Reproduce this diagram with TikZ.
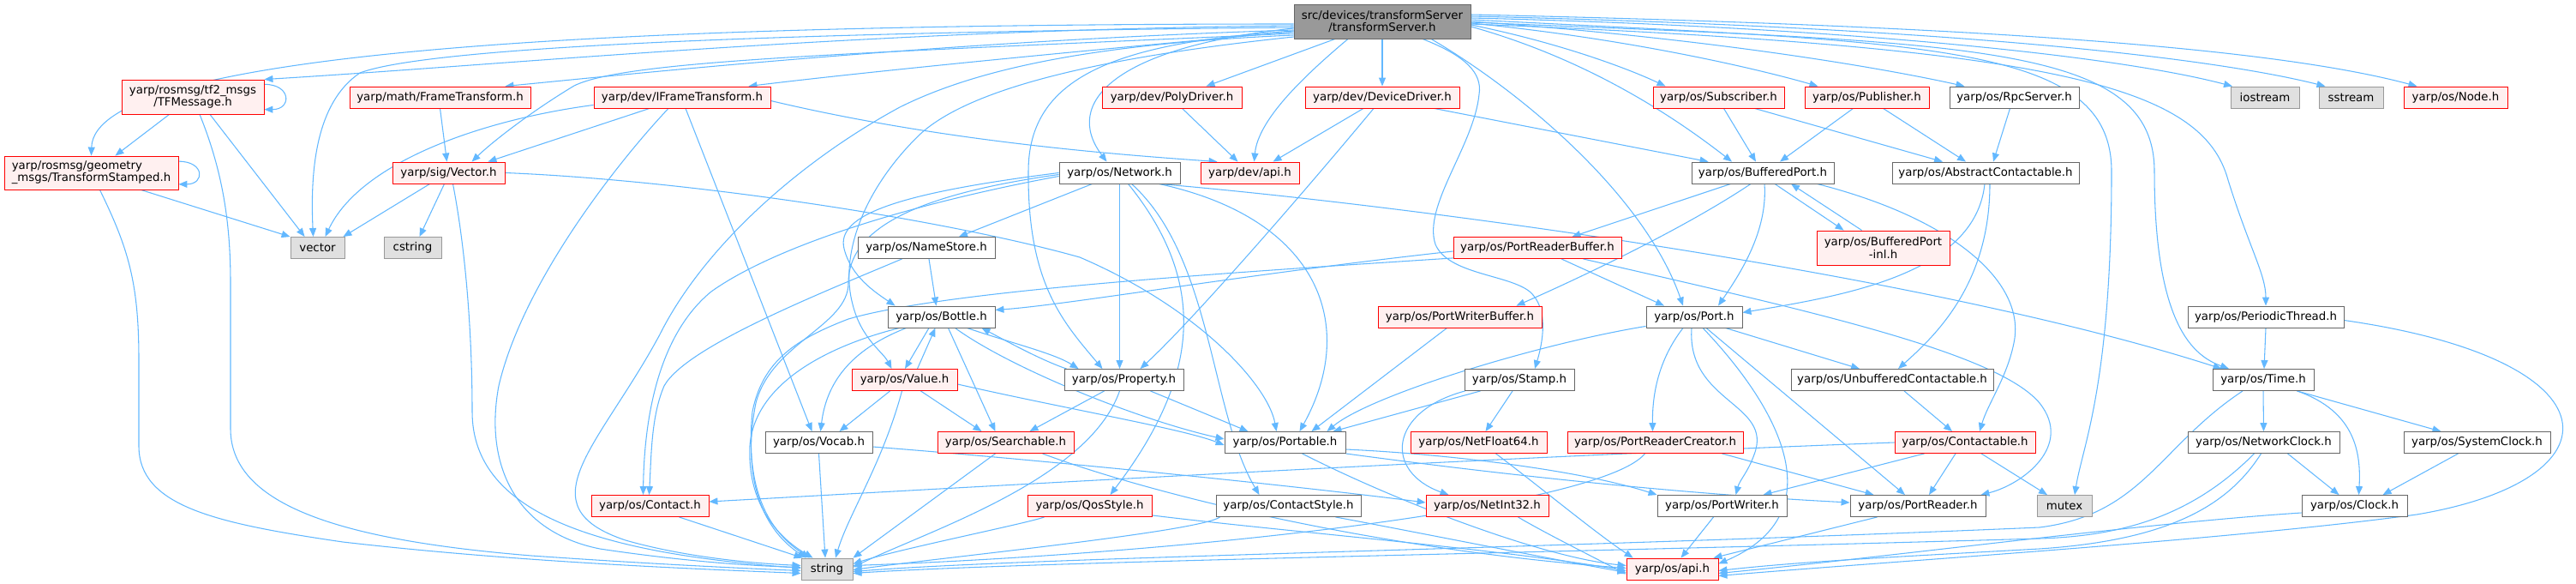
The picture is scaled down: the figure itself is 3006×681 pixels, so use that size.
\documentclass[tikz,border=0pt]{standalone}
\usepackage{fontspec}
\setmainfont{DejaVu Sans}
\usetikzlibrary{arrows.meta,calc}
\pgfdeclarelayer{edges}
\pgfsetlayers{edges,main}
\definecolor{edgec}{HTML}{63B8FF}
\definecolor{redb}{HTML}{FF0000}
\definecolor{redf}{HTML}{FFF0F0}
\definecolor{grayb}{HTML}{999999}
\definecolor{grayf}{HTML}{E0E0E0}
\definecolor{normb}{HTML}{666666}
\definecolor{topf}{HTML}{999999}
\tikzset{
 base/.style={draw, line width=0.65pt, inner sep=0pt, align=center, font=\fontsize{10pt}{10.7pt}\selectfont},
 rbox/.style={base, draw=redb, fill=redf},
 wbox/.style={base, draw=normb, fill=white},
 gbox/.style={base, draw=grayb, fill=grayf},
 topbox/.style={base, draw=normb, fill=topf},
 e/.style={draw=edgec, line width=0.8pt, -{Triangle[length=7.5pt,width=6pt]}},
}
\newcommand{\mknode}[6]{\node[#1, minimum width=#4*0.75pt, minimum height=#5*0.75pt] (#2) at (#3) {#6};}
\begin{document}
\begin{tikzpicture}[x=0.75pt,y=-0.75pt]
\useasboundingbox (0,0) rectangle (3006,681);
% rank 0
\mknode{topbox}{top}{1613,25}{206}{40}{src/devices/transformServer\\/transformServer.h}
% rank 1
\mknode{rbox}{tf}{225,113}{166}{40}{yarp/rosmsg/tf2\_msgs\\/TFMessage.h}
\mknode{rbox}{ft}{513.5,113.5}{211}{25}{yarp/math/FrameTransform.h}
\mknode{rbox}{ift}{796,113.5}{206}{25}{yarp/dev/IFrameTransform.h}
\mknode{rbox}{poly}{1367.5,113.5}{163}{25}{yarp/dev/PolyDriver.h}
\mknode{rbox}{devdrv}{1613,113.5}{180}{25}{yarp/dev/DeviceDriver.h}
\mknode{rbox}{sub}{2005.5,113.5}{153}{25}{yarp/os/Subscriber.h}
\mknode{rbox}{pub}{2178.5,113.5}{145}{25}{yarp/os/Publisher.h}
\mknode{wbox}{rpc}{2350.5,113.5}{151}{25}{yarp/os/RpcServer.h}
\mknode{gbox}{iostream}{2643,113.5}{80}{25}{iostream}
\mknode{gbox}{sstream}{2743.5,113.5}{75}{25}{sstream}
\mknode{rbox}{nodeh}{2865.5,113.5}{121}{25}{yarp/os/Node.h}
% rank 2
\mknode{rbox,align=left}{ts}{106.5,201.5}{203}{39}{yarp/rosmsg/geometry\\\_msgs/TransformStamped.h}
\mknode{rbox}{sigvec}{523.5,201.5}{131}{25}{yarp/sig/Vector.h}
\mknode{wbox}{network}{1306.5,201.5}{141}{25}{yarp/os/Network.h}
\mknode{rbox}{devapi}{1458.5,201.5}{115}{25}{yarp/dev/api.h}
\mknode{wbox}{bp}{2057,201.5}{166}{25}{yarp/os/BufferedPort.h}
\mknode{wbox}{absc}{2317,201.5}{218}{25}{yarp/os/AbstractContactable.h}
% rank 3
\mknode{gbox}{vector}{370.5,289}{63}{25}{vector}
\mknode{gbox}{cstring}{481.5,289}{67}{25}{cstring}
\mknode{wbox}{namestore}{1081,289}{160}{25}{yarp/os/NameStore.h}
\mknode{rbox}{prb}{1794,289}{196}{25}{yarp/os/PortReaderBuffer.h}
\mknode{rbox}{bpinl}{2197.5,289}{155}{40}{yarp/os/BufferedPort\\-inl.h}
% rank 4
\mknode{wbox}{bottle}{1098.5,369.5}{125}{25}{yarp/os/Bottle.h}
\mknode{rbox}{pwb}{1703.5,369.5}{191}{25}{yarp/os/PortWriterBuffer.h}
\mknode{wbox}{port}{1977,369.5}{112}{25}{yarp/os/Port.h}
\mknode{wbox}{perth}{2644,369.5}{182}{25}{yarp/os/PeriodicThread.h}
% rank 5
\mknode{rbox}{value}{1055.5,443}{123}{25}{yarp/os/Value.h}
\mknode{wbox}{property}{1311.5,443}{139}{25}{yarp/os/Property.h}
\mknode{wbox}{stamp}{1773,443}{128}{25}{yarp/os/Stamp.h}
\mknode{wbox}{unbuf}{2208,443}{236}{25}{yarp/os/UnbufferedContactable.h}
\mknode{wbox}{time}{2641,443}{118}{25}{yarp/os/Time.h}
% rank 6
\mknode{wbox}{vocab}{955.5,516}{125}{25}{yarp/os/Vocab.h}
\mknode{rbox}{searchable}{1173.5,516}{159}{25}{yarp/os/Searchable.h}
\mknode{wbox}{portable}{1499.5,516}{141}{25}{yarp/os/Portable.h}
\mknode{rbox}{netfloat}{1725.5,516}{159}{25}{yarp/os/NetFloat64.h}
\mknode{rbox}{prc}{1931.5,516}{205}{25}{yarp/os/PortReaderCreator.h}
\mknode{rbox}{contactable}{2293,516}{164}{25}{yarp/os/Contactable.h}
\mknode{wbox}{netclock}{2641.5,516}{177}{25}{yarp/os/NetworkClock.h}
\mknode{wbox}{sysclock}{2890.5,516}{171}{25}{yarp/os/SystemClock.h}
% rank 7
\mknode{rbox}{contact}{758.5,590}{137}{25}{yarp/os/Contact.h}
\mknode{rbox}{qos}{1271.5,590}{145}{25}{yarp/os/QosStyle.h}
\mknode{wbox}{cstyle}{1503.5,590}{169}{25}{yarp/os/ContactStyle.h}
\mknode{rbox}{netint}{1735.5,590}{143}{25}{yarp/os/NetInt32.h}
\mknode{wbox}{pw}{2009.5,590}{151}{25}{yarp/os/PortWriter.h}
\mknode{wbox}{pr}{2238,590}{158}{25}{yarp/os/PortReader.h}
\mknode{gbox}{mutex}{2409,590}{64}{25}{mutex}
\mknode{wbox}{clock}{2747.5,590}{123}{25}{yarp/os/Clock.h}
% rank 8
\mknode{gbox}{string}{965,663.5}{60}{25}{string}
\mknode{rbox}{osapi}{1951.5,663.5}{107}{25}{yarp/os/api.h}

\begin{pgfonlayer}{edges}
% ---- from top, leftwards
\draw[e] ($(top.west)+(0,3)$) .. controls (700,28) and (110,60) .. (ts.north);
\draw[e] ($(top.west)+(0,5)$) .. controls (1000,35) and (600,75) .. (tf.north east);
\draw[e] ($(top.west)+(0,7)$) .. controls (900,38) and (500,55) .. (420,85) .. controls (368,120) and (362,200) .. ($(vector.north)+(-5,0)$);
\draw[e] ($(top.west)+(0,10)$) .. controls (1100,48) and (750,85) .. ($(ft.north east)+(-30,0)$);
\draw[e] ($(top.west)+(0,12)$) .. controls (1250,60) and (1000,85) .. ($(ift.north east)+(-26,0)$);
\draw[e] ($(top.west)+(0,14)$) .. controls (1000,62) and (730,70) .. (670,100) .. controls (620,130) and (575,165) .. ($(sigvec.north)+(27,0)$);
\draw[e] ($(top.west)+(0,16)$) .. controls (1300,50) and (1150,75) .. (1050,125) .. controls (930,190) and (820,290) .. (770,390) .. controls (700,520) and (610,590) .. (730,630) .. controls (800,650) and (880,657) .. ($(string.west)+(0,-4)$);
\draw[e] ($(top.west)+(0,18)$) .. controls (1300,65) and (1130,100) .. (1070,160) .. controls (1005,225) and (980,300) .. (995,355) .. controls (1005,395) and (1030,410) .. ($(value.north)+(-15,0)$);
\draw[e] ($(top.west)+(0,8)$) .. controls (1300,55) and (1240,120) .. ($(network.north)+(-15,0)$);
\draw[e] ($(top.west)+(0,11)$) .. controls (1300,50) and (1200,90) .. (1200,200) .. controls (1199,330) and (1240,375) .. ($(property.north)+(-25,0)$);
% ---- from top, downwards
\draw[e] ($(top.south)+(-55,0)$) -- ($(poly.north)+(40,0)$);
\draw[e] ($(top.south)+(-40,0)$) .. controls (1520,90) and (1468,140) .. ($(devapi.north)+(5,0)$);
\draw[e] (top.south) -- (devdrv.north);
\draw[e] ($(top.south)+(47,0)$) .. controls (1710,65) and (1730,85) .. (1726,110) .. controls (1720,170) and (1660,240) .. (1675,285) .. controls (1690,320) and (1760,320) .. (1785,340) .. controls (1808,360) and (1800,400) .. ($(stamp.north)+(18,0)$);
\draw[e] ($(top.south)+(57,0)$) .. controls (1780,110) and (1920,230) .. ($(port.north)+(-13,0)$);
% ---- from top, rightwards
\draw[e] ($(top.east)+(0,6)$) .. controls (1820,60) and (1920,110) .. ($(bp.north)+(-36,0)$);
\draw[e] ($(top.east)+(0,4)$) .. controls (1820,50) and (1900,80) .. ($(sub.north)+(-62,0)$);
\draw[e] ($(top.east)+(0,2)$) .. controls (1900,45) and (2050,80) .. ($(pub.north)+(-57,0)$);
\draw[e] (top.east) .. controls (2000,45) and (2200,80) .. ($(rpc.north)+(-58,0)$);
\draw[e] ($(top.east)+(0,-4)$) .. controls (2100,30) and (2450,60) .. ($(iostream.north)+(-38,0)$);
\draw[e] ($(top.east)+(0,-6)$) .. controls (2200,30) and (2550,60) .. ($(sstream.north)+(-30,0)$);
\draw[e] ($(top.east)+(0,-8)$) .. controls (2300,30) and (2650,55) .. ($(nodeh.north)+(-45,0)$);
\draw[e] ($(top.east)+(0,-2)$) .. controls (2250,50) and (2464,50) .. (2464,200) .. controls (2464,450) and (2430,520) .. ($(mutex.north)+(12,0)$);
\draw[e] ($(top.east)+(0,1)$) .. controls (2300,50) and (2514,50) .. (2514,200) .. controls (2514,380) and (2560,415) .. ($(time.north)+(-40,0)$);
\draw[e] ($(top.east)+(0,3)$) .. controls (2400,55) and (2570,100) .. (2600,210) .. controls (2625,290) and (2644,320) .. (perth.north);
% ---- TF / TS / vectors
\draw[e] ([yshift=11pt]tf.east) .. controls +(24pt,0) and +(24pt,0) .. ([yshift=-11pt]tf.east);
\draw[e] ([yshift=10pt]ts.east) .. controls +(23pt,0) and +(23pt,0) .. ([yshift=-10pt]ts.east);
\draw[e] ($(tf.south west)+(56,0)$) -- ($(ts.north east)+(-74,0)$);
\draw[e] ($(tf.south)+(20,0)$) -- ($(vector.north west)+(17,0)$);
\draw[e] ($(tf.south)+(8,0)$) .. controls (260,200) and (269,260) .. (269,330) -- (269,500) .. controls (269,590) and (400,630) .. (620,648) .. controls (750,657) and (850,662) .. ($(string.west)+(0,2)$);
\draw[e] ($(ts.south)+(58,0)$) -- (vector.north west);
\draw[e] ($(ts.south)+(10,0)$) .. controls (150,290) and (162,330) .. (162,420) -- (162,520) .. controls (162,590) and (250,610) .. (400,632) .. controls (600,655) and (800,663) .. ($(string.west)+(0,5)$);
\draw[e] ($(sigvec.south west)+(44,0)$) -- ($(vector.north east)+(-2,0)$);
\draw[e] ($(sigvec.south)+(-5,0)$) -- ($(cstring.north)+(8,0)$);
\draw[e] ($(sigvec.south)+(5,0)$) .. controls (545,300) and (551,400) .. (551,480) .. controls (551,600) and (700,645) .. ($(string.west)+(0,-1)$);
\draw[e] (sigvec.east) .. controls (800,210) and (1100,255) .. (1260,300) .. controls (1400,360) and (1480,450) .. ($(portable.north)+(-10,0)$);
\draw[e] (ft.south) -- ($(sigvec.north)+(-2,0)$);
% ---- IFrameTransform
\draw[e] ($(ift.south west)+(0,-4)$) .. controls (560,140) and (420,190) .. ($(vector.north)+(9,0)$);
\draw[e] ($(ift.south)+(-38,0)$) -- ($(sigvec.north east)+(-20,0)$);
\draw[e] ($(ift.south)+(4,0)$) -- ($(vocab.north)+(-8,0)$);
\draw[e] ($(ift.south)+(-16,0)$) .. controls (720,190) and (610,330) .. (582,450) .. controls (565,540) and (600,620) .. (700,640) .. controls (800,655) and (880,660) .. ($(string.west)+(0,-2)$);
\draw[e] ($(ift.east)+(0,4)$) .. controls (1100,165) and (1300,180) .. ($(devapi.north west)+(20,0)$);
% ---- drivers
\draw[e] ($(poly.south)+(12,0)$) -- ($(devapi.north)+(-14,0)$);
\draw[e] ($(devdrv.south)+(-22,0)$) -- ($(devapi.north)+(27,0)$);
\draw[e] ($(devdrv.south)+(-10,0)$) .. controls (1500,250) and (1385,380) .. ($(property.north)+(19,0)$);
\draw[e] ($(devdrv.south east)+(-30,0)$) -- ($(bp.north west)+(20,0)$);
% ---- Network
\draw[e] (network.west) .. controls (1050,225) and (975,250) .. (985,290) .. controls (993,322) and (1020,340) .. ($(bottle.north west)+(9,0)$);
\draw[e] ($(network.west)+(0,2)$) .. controls (1060,228) and (990,270) .. (990,330) .. controls (990,380) and (900,400) .. (882,470) .. controls (868,540) and (880,610) .. ($(string.north west)+(6,0)$);
\draw[e] ($(network.west)+(0,4)$) .. controls (1050,240) and (900,290) .. (830,340) .. controls (775,385) and (752,470) .. ($(contact.north)+(-8,0)$);
\draw[e] ($(network.south west)+(39,0)$) -- ($(namestore.north)+(38,0)$);
\draw[e] (network.south) -- ($(property.north)+(-5,0)$);
\draw[e] ($(network.south)+(10,0)$) .. controls (1410,330) and (1400,440) .. ($(qos.north)+(24,0)$);
\draw[e] ($(network.south)+(14,0)$) .. controls (1415,300) and (1412,480) .. ($(cstyle.north)+(-34,0)$);
\draw[e] ($(network.south east)+(-25,0)$) .. controls (1540,255) and (1585,380) .. ($(portable.north)+(17,0)$);
\draw[e] ($(network.south east)+(-25,0)$) .. controls (1650,240) and (2250,320) .. ($(time.north west)+(11,0)$);
% ---- NameStore
\draw[e] ($(namestore.south)+(3,0)$) -- ($(bottle.north)+(-6,0)$);
\draw[e] ($(namestore.south west)+(52,0)$) .. controls (950,345) and (800,405) .. (775,450) .. controls (760,485) and (760,530) .. ($(contact.north)+(-1,0)$);
% ---- PortReaderBuffer
\draw[e] ($(prb.west)+(0,4)$) .. controls (1450,320) and (1250,355) .. ($(bottle.east)+(0,-8)$);
\draw[e] ($(prb.south west)+(0,-1)$) .. controls (1400,320) and (1100,340) .. (990,372) .. controls (930,395) and (890,420) .. (878,480) .. controls (870,560) and (890,615) .. ($(string.north west)+(10,0)$);
\draw[e] ($(prb.south)+(28,0)$) -- ($(port.north)+(-35,0)$);
\draw[e] ($(prb.south east)+(-45,0)$) .. controls (2100,360) and (2330,410) .. (2380,470) .. controls (2420,520) and (2360,565) .. ($(pr.north east)+(-6,0)$);
\draw[e] ($(pwb.south)+(-15,0)$) -- ($(portable.north east)+(-40,0)$);
% ---- BufferedPort
\draw[e] ($(bp.south west)+(46,0)$) -- ($(prb.north east)+(-58,0)$);
\draw[e] ($(bp.south)+(-14,0)$) .. controls (1960,270) and (1830,330) .. ($(pwb.north east)+(-30,0)$);
\draw[e] ($(bp.south)+(2,0)$) .. controls (2063,270) and (2030,320) .. ($(port.north)+(28,0)$);
\draw[e] ($(bp.south)+(14,0)$) -- ($(bpinl.north west)+(32,0)$);
\draw[e] ($(bpinl.north west)+(53,0)$) -- ($(bp.south)+(33,0)$);
\draw[e] ($(bp.south east)+(-20,0)$) .. controls (2280,255) and (2365,330) .. (2350,400) .. controls (2342,440) and (2320,470) .. ($(contactable.north)+(17,0)$);
% ---- Subscriber / Publisher / RpcServer
\draw[e] ($(sub.south)+(6,0)$) -- ($(bp.north)+(-8,0)$);
\draw[e] ($(sub.south)+(42,0)$) -- ($(absc.north)+(-50,0)$);
\draw[e] ($(pub.south)+(-16,0)$) -- ($(bp.north)+(20,0)$);
\draw[e] ($(pub.south)+(19,0)$) -- ($(absc.north)+(-23,0)$);
\draw[e] ($(rpc.south)+(-5,0)$) -- ($(absc.north)+(9,0)$);
% ---- AbstractContactable
\draw[e] ($(absc.south)+(-1,0)$) .. controls (2305,320) and (2150,345) .. ($(port.east)+(0,-5)$);
\draw[e] ($(absc.south)+(5,0)$) .. controls (2322,330) and (2260,390) .. ($(unbuf.north)+(7,0)$);
% ---- Port
\draw[e] ($(port.south west)+(0,-2)$) .. controls (1800,400) and (1600,460) .. ($(portable.north east)+(-22,0)$);
\draw[e] ($(port.south)+(-13,0)$) .. controls (1935,420) and (1928,460) .. ($(prc.north)+(-3,0)$);
\draw[e] ($(port.south)+(-3,0)$) .. controls (1968,470) and (2070,470) .. (2047,530) .. controls (2040,550) and (2030,560) .. ($(pw.north)+(16,0)$);
\draw[e] ($(port.south)+(10,0)$) .. controls (2080,480) and (2140,600) .. ($(osapi.east)+(0,-6)$);
\draw[e] ($(port.south)+(14,0)$) -- ($(pr.north)+(-15,0)$);
\draw[e] ($(port.south east)+(-20,0)$) -- ($(unbuf.north)+(-38,0)$);
% ---- Stamp
\draw[e] ($(stamp.south west)+(19,0)$) -- ($(portable.north east)+(-15,0)$);
\draw[e] ($(stamp.south west)+(1,0)$) .. controls (1620,480) and (1615,550) .. ($(netint.north)+(-45,0)$);
\draw[e] ($(stamp.south)+(-8,0)$) -- ($(netfloat.north)+(8,0)$);
% ---- Unbuffered / Contactable / PRC
\draw[e] ($(unbuf.south)+(14,0)$) -- ($(contactable.north)+(-15,0)$);
\draw[e] (contactable.west) .. controls (1700,535) and (1100,570) .. ($(contact.east)+(0,-5)$);
\draw[e] ($(contactable.south west)+(35,0)$) -- ($(pw.north east)+(-28,0)$);
\draw[e] ($(contactable.south)+(-11,0)$) -- ($(pr.north)+(13,0)$);
\draw[e] ($(contactable.south)+(19,0)$) -- ($(mutex.north)+(-20,0)$);
\draw[e] ($(prc.south east)+(-25,0)$) -- ($(pr.north west)+(28,0)$);
\draw[e] ($(prc.south)+(-12,0)$) .. controls (1870,590) and (1400,645) .. ($(string.east)+(0,-4)$);
% ---- Portable
\draw[e] ($(portable.east)+(0,8)$) .. controls (1700,530) and (1850,550) .. (pw.north west);
\draw[e] (portable.south east) .. controls (1800,560) and (2000,578) .. ($(pr.west)+(0,-4)$);
\draw[e] ($(portable.south)+(20,0)$) .. controls (1630,585) and (1800,650) .. ($(osapi.west)+(0,-4)$);
% ---- Searchable / Property / Value / Bottle / Vocab
\draw[e] ($(searchable.south)+(-12,0)$) -- (string.north east);
\draw[e] ($(searchable.south east)+(-37,0)$) .. controls (1340,575) and (1600,640) .. ($(osapi.west)+(0,-1)$);
\draw[e] ($(property.south west)+(47,0)$) -- ($(searchable.north east)+(-52,0)$);
\draw[e] ($(property.south east)+(-39,0)$) -- ($(portable.north west)+(28,0)$);
\draw[e] ($(property.south)+(-5,0)$) .. controls (1270,560) and (1080,620) .. ($(string.east)+(0,-2)$);
\draw[e] ($(property.north west)+(3,0)$) .. controls (1215,420) and (1175,398) .. ($(bottle.south east)+(-16,0)$);
\draw[e] ($(value.south west)+(45,0)$) -- ($(vocab.north)+(24,0)$);
\draw[e] ($(value.south)+(-3,0)$) .. controls (1030,540) and (990,600) .. ($(string.north)+(10,0)$);
\draw[e] ($(value.south east)+(-43,0)$) -- ($(searchable.north)+(-28,0)$);
\draw[e] ($(value.east)+(0,5)$) .. controls (1250,478) and (1380,500) .. ($(portable.west)+(0,3)$);
\draw[e] ($(value.north)+(15,0)$) -- ($(bottle.south)+(-7,0)$);
\draw[e] ($(bottle.south)+(-14.5,0)$) -- ($(value.north)+(0.5,0)$);
\draw[e] ($(bottle.south west)+(22,0)$) .. controls (1000,405) and (965,440) .. ($(vocab.north)+(2,0)$);
\draw[e] ($(bottle.south west)+(14,0)$) .. controls (960,405) and (880,450) .. (875,520) .. controls (872,585) and (905,625) .. ($(string.north west)+(14,0)$);
\draw[e] ($(bottle.south)+(8,0)$) -- ($(searchable.north)+(-12,0)$);
\draw[e] ($(bottle.south east)+(-47,0)$) .. controls (1180,430) and (1330,490) .. ($(portable.west)+(0,-4)$);
\draw[e] ($(bottle.south east)+(-33,0)$) .. controls (1180,400) and (1230,412) .. ($(property.north west)+(17,0)$);
\draw[e] (vocab.south) -- ($(string.north)+(-2,0)$);
\draw[e] ($(vocab.east)+(0,5)$) .. controls (1200,535) and (1500,565) .. ($(netint.west)+(0,-4)$);
% ---- lower rank
\draw[e] ($(contact.south east)+(-35,0)$) -- ($(string.north west)+(2,0)$);
\draw[e] ($(qos.south west)+(20,0)$) .. controls (1200,610) and (1050,640) .. ($(string.east)+(0,-6)$);
\draw[e] ($(qos.south east)+(0,-2)$) .. controls (1500,620) and (1750,640) .. ($(osapi.west)+(0,2)$);
\draw[e] ($(cstyle.south west)+(5,0)$) .. controls (1400,620) and (1100,650) .. ($(string.east)+(0,1)$);
\draw[e] ($(cstyle.south east)+(-30,0)$) .. controls (1650,620) and (1800,650) .. ($(osapi.west)+(0,4)$);
\draw[e] ($(netint.south east)+(-36,0)$) .. controls (1800,620) and (1860,650) .. ($(osapi.west)+(0,6)$);
\draw[e] ($(netfloat.south)+(20,0)$) .. controls (1800,570) and (1860,620) .. ($(osapi.north west)+(8,0)$);
\draw[e] ($(pw.south)+(-10,0)$) -- ($(osapi.north)+(10,0)$);
\draw[e] ($(pr.south west)+(32,0)$) -- ($(osapi.north east)+(-6,0)$);
% ---- Time / clocks / PeriodicThread
\draw[e] ($(time.south)+(-24,0)$) .. controls (2520,520) and (2500,600) .. (2380,615) .. controls (1800,640) and (1200,650) .. ($(string.east)+(0,3)$);
\draw[e] (time.south) -- (netclock.north);
\draw[e] ($(time.south east)+(-20,0)$) .. controls (2750,480) and (2755,530) .. ($(clock.north)+(5,0)$);
\draw[e] ($(time.south east)+(-20,0)$) -- ($(sysclock.north)+(-42,0)$);
\draw[e] ($(netclock.south)+(28,0)$) -- ($(clock.north)+(-18,0)$);
\draw[e] ($(netclock.south)+(-11,0)$) .. controls (2560,600) and (2480,625) .. (2380,628) .. controls (1800,645) and (1200,655) .. ($(string.east)+(0,5)$);
\draw[e] ($(netclock.south)+(-3,0)$) .. controls (2600,590) and (2530,630) .. (2380,640) .. controls (2200,650) and (2100,655) .. ($(osapi.east)+(0,2)$);
\draw[e] ($(clock.west)+(0,8)$) .. controls (2500,610) and (2200,650) .. ($(osapi.east)+(0,5)$);
\draw[e] ($(sysclock.south)+(-22,0)$) -- ($(clock.north)+(33,0)$);
\draw[e] (perth.south) -- ($(time.north)+(1,0)$);
\draw[e] ($(perth.east)+(0,4)$) .. controls (3060,420) and (3060,560) .. (2820,600) .. controls (2600,630) and (2200,655) .. ($(osapi.east)+(0,8)$);
\end{pgfonlayer}
\end{tikzpicture}
\end{document}
